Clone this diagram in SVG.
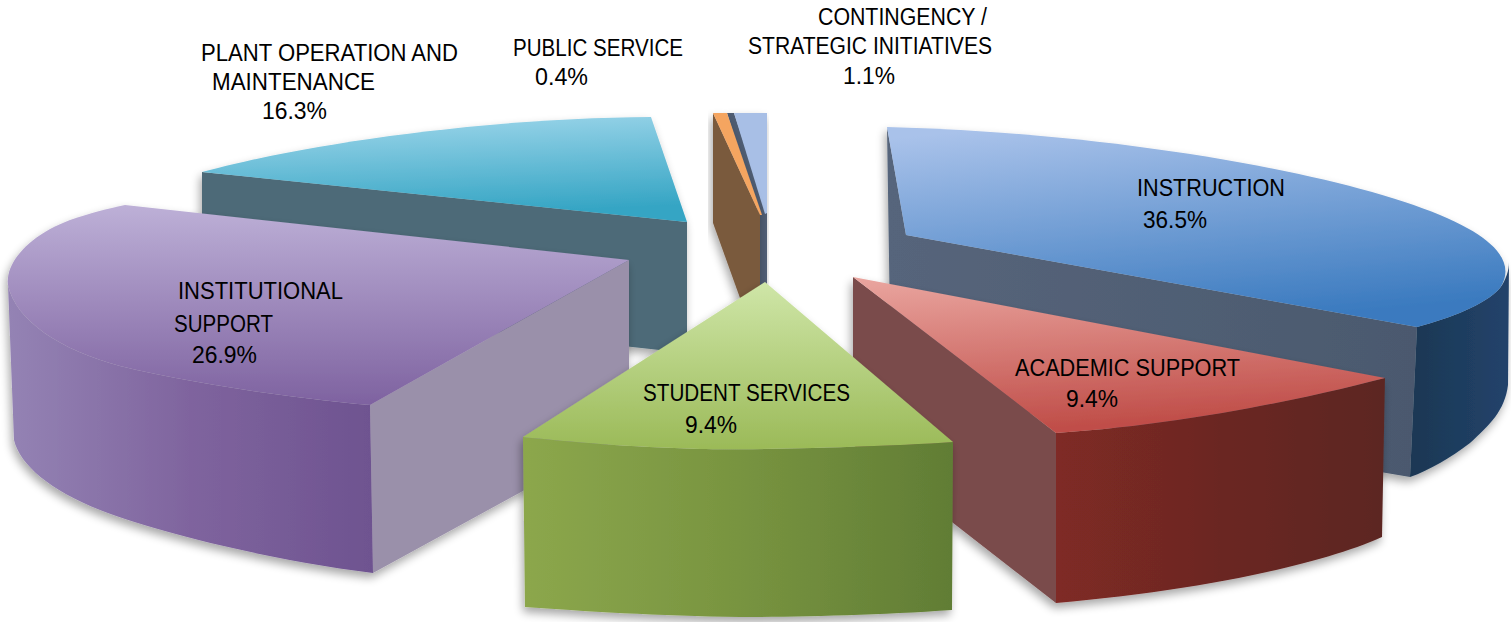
<svg xmlns="http://www.w3.org/2000/svg" width="1511" height="622" viewBox="0 0 1511 622">
<defs>
<style>
.lbl{font-family:"Liberation Sans",Arial,sans-serif;font-size:23px;fill:#000}
</style>
<filter id="sh" x="-10%" y="-10%" width="120%" height="125%">
<feGaussianBlur in="SourceAlpha" stdDeviation="5"/>
<feOffset dx="-2" dy="5" result="b"/>
<feComponentTransfer><feFuncA type="linear" slope="0.35"/></feComponentTransfer>
<feMerge><feMergeNode/><feMergeNode in="SourceGraphic"/></feMerge>
</filter>
<linearGradient id="tealTop" x1="0" y1="0" x2="0.2" y2="1"><stop offset="0" stop-color="#a2d8ec"/><stop offset="1" stop-color="#35a5c4"/></linearGradient>
<linearGradient id="blueTop" x1="0.2" y1="0" x2="0.5" y2="1"><stop offset="0" stop-color="#a9c2ea"/><stop offset="1" stop-color="#3a7abf"/></linearGradient>
<linearGradient id="blueSide" x1="0" y1="0" x2="1" y2="0"><stop offset="0" stop-color="#1a3753"/><stop offset="1" stop-color="#23436b"/></linearGradient>
<linearGradient id="blueCut" x1="0" y1="0" x2="1" y2="0"><stop offset="0" stop-color="#56657b"/><stop offset="1" stop-color="#4b596e"/></linearGradient>
<linearGradient id="purTop" x1="0" y1="0" x2="0" y2="1"><stop offset="0" stop-color="#bdb0d7"/><stop offset="1" stop-color="#7e62a0"/></linearGradient>
<linearGradient id="purSide" x1="0" y1="0" x2="1" y2="0"><stop offset="0" stop-color="#9483b4"/><stop offset="0.5" stop-color="#7f649e"/><stop offset="1" stop-color="#6e5390"/></linearGradient>
<linearGradient id="redTop" x1="0" y1="0" x2="0.2" y2="1"><stop offset="0" stop-color="#eaa6a0"/><stop offset="1" stop-color="#c04e49"/></linearGradient>
<linearGradient id="redSide" x1="0" y1="0" x2="1" y2="0"><stop offset="0" stop-color="#7f2a25"/><stop offset="0.5" stop-color="#6b2723"/><stop offset="1" stop-color="#5c2823"/></linearGradient>
<linearGradient id="grnTop" x1="0" y1="0" x2="0" y2="1"><stop offset="0" stop-color="#cfe6a8"/><stop offset="1" stop-color="#9bba58"/></linearGradient>
<linearGradient id="grnSide" x1="0" y1="0" x2="1" y2="0"><stop offset="0" stop-color="#8ca74c"/><stop offset="0.5" stop-color="#789440"/><stop offset="1" stop-color="#617d35"/></linearGradient>
</defs>
<rect width="1511" height="622" fill="#ffffff"/>

<g id="slice-plant-operation">
<g filter="url(#sh)">
<path d="M202,172 L687,222 L687,353 L202,300 Z" fill="#4d6b78"/>
<path d="M202,172 C300,145 480,118 651,117 L687,222 Z" fill="url(#tealTop)"/>
</g>
<text class="lbl" x="201" y="61" textLength="257" lengthAdjust="spacingAndGlyphs">PLANT OPERATION AND</text>
<text class="lbl" x="212" y="90" textLength="163" lengthAdjust="spacingAndGlyphs">MAINTENANCE</text>
<text class="lbl" x="262" y="119" textLength="65" lengthAdjust="spacingAndGlyphs">16.3%</text>
</g>

<g id="slice-instruction">
<g filter="url(#sh)">
<path d="M887,127 L906,235 L1417,327 L1410,477 L891,390 Z" fill="url(#blueCut)"/>
<path d="M1417,327 C1450,318 1485,305 1500,288 C1506,280 1509,270 1509,262 L1508,385 C1505,410 1490,425 1470,443 C1450,458 1430,470 1410,477 Z" fill="url(#blueSide)"/>
<path d="M887,127 C1100,132 1330,170 1440,215 C1500,240 1515,265 1500,288 C1485,305 1450,318 1417,327 L906,235 Z" fill="url(#blueTop)"/>
</g>
<text class="lbl" x="1137" y="196" textLength="148" lengthAdjust="spacingAndGlyphs">INSTRUCTION</text>
<text class="lbl" x="1143" y="228" textLength="64" lengthAdjust="spacingAndGlyphs">36.5%</text>
</g>

<g id="slice-contingency">
<g filter="url(#sh)">
<path d="M727,113 L734,113 L767,213 L767,285 L759,285 L759,214 Z" fill="#4f5d73"/>
<path d="M734,113 L767,113 L767,213 L765,214 Z" fill="#a8bfe6"/>
</g>
<text class="lbl" x="818" y="25" textLength="169" lengthAdjust="spacingAndGlyphs">CONTINGENCY /</text>
<text class="lbl" x="748" y="54" textLength="244" lengthAdjust="spacingAndGlyphs">STRATEGIC INITIATIVES</text>
<text class="lbl" x="843" y="84" textLength="52" lengthAdjust="spacingAndGlyphs">1.1%</text>
</g>

<g id="slice-public-service">
<g filter="url(#sh)">
<path d="M713,113 L760,215 L760,290 L740,298 L713,223 Z" fill="#7a5a3e"/>
<path d="M713,113 L727,113 L762,215 L760,215 Z" fill="#f5a560"/>
</g>
<text class="lbl" x="513" y="56" textLength="170" lengthAdjust="spacingAndGlyphs">PUBLIC SERVICE</text>
<text class="lbl" x="535" y="85" textLength="53" lengthAdjust="spacingAndGlyphs">0.4%</text>
</g>

<g id="slice-institutional-support">
<g filter="url(#sh)">
<path d="M629,260 L370,405 L373,573 L629,433 Z" fill="#9a90aa"/>
<path d="M370,405 C290,398 190,383 120,366 C60,350 15,320 8,285 L14,440 C20,465 50,490 100,510 C160,533 270,560 373,573 Z" fill="url(#purSide)"/>
<path d="M125,205 L629,260 L370,405 C290,398 190,383 120,366 C60,350 15,320 8,285 C5,262 30,235 70,220 C90,213 110,208 125,205 Z" fill="url(#purTop)"/>
</g>
<text class="lbl" x="178" y="299" textLength="165" lengthAdjust="spacingAndGlyphs">INSTITUTIONAL</text>
<text class="lbl" x="174" y="332" textLength="99" lengthAdjust="spacingAndGlyphs">SUPPORT</text>
<text class="lbl" x="192" y="363" textLength="65" lengthAdjust="spacingAndGlyphs">26.9%</text>
</g>

<g id="slice-academic-support">
<g filter="url(#sh)">
<path d="M853,277 L1056,433 L1056,603 L853,445 Z" fill="#7a4b4b"/>
<path d="M1056,433 C1180,425 1300,400 1385,378 L1382,537 C1320,565 1200,590 1056,603 Z" fill="url(#redSide)"/>
<path d="M853,277 L1385,378 C1300,400 1180,425 1056,433 Z" fill="url(#redTop)"/>
</g>
<text class="lbl" x="1015" y="376" textLength="225" lengthAdjust="spacingAndGlyphs">ACADEMIC SUPPORT</text>
<text class="lbl" x="1066" y="407" textLength="52" lengthAdjust="spacingAndGlyphs">9.4%</text>
</g>

<g id="slice-student-services">
<g filter="url(#sh)">
<path d="M523,437 C570,442 630,447 700,449 C760,450 880,447 953,442 L952,610 C880,615 800,617 740,617 C660,616 580,611 525,607 Z" fill="url(#grnSide)"/>
<path d="M765,282 L953,442 C880,447 760,450 700,449 C630,447 570,442 523,437 Z" fill="url(#grnTop)"/>
</g>
<text class="lbl" x="643" y="401" textLength="207" lengthAdjust="spacingAndGlyphs">STUDENT SERVICES</text>
<text class="lbl" x="685" y="433" textLength="52" lengthAdjust="spacingAndGlyphs">9.4%</text>
</g>

<g id="connectors"/>
</svg>
